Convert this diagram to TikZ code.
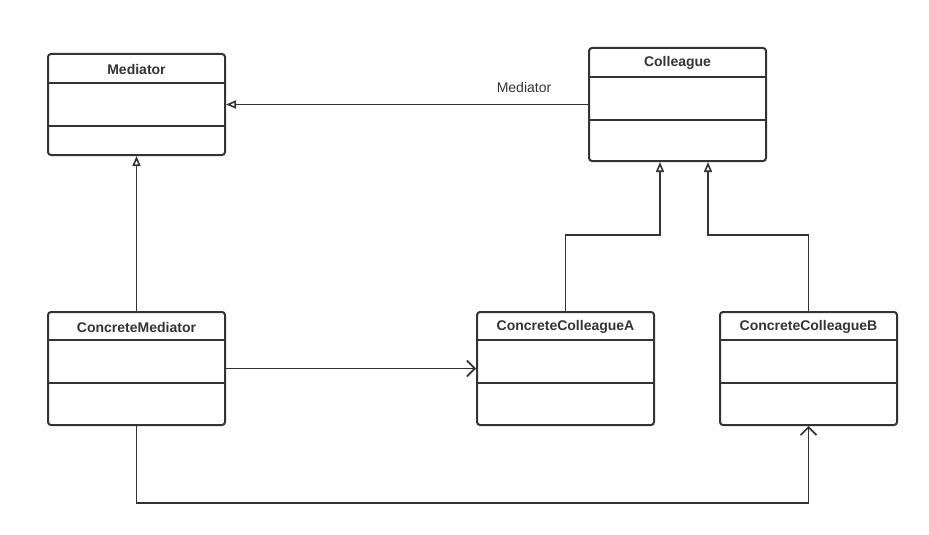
\documentclass[tikz,border=0pt]{standalone}
\usepackage{fontspec}
\setmainfont{Liberation Sans}
\usetikzlibrary{arrows.meta}

\definecolor{umlgray}{RGB}{51,51,51}

\tikzset{
	cls/.style={draw=umlgray, line width=2pt, rounded corners=3pt, minimum width=177pt, inner sep=0pt},
	ttl/.style={font=\fontsize{14}{16}\selectfont\bfseries, text=umlgray},
	txt/.style={font=\fontsize{14}{16}\selectfont, text=umlgray},
	sep/.style={draw=umlgray, line width=2pt},
	link/.style={draw=umlgray, line width=1.8pt},
	gen/.style={link, -{Triangle[open, length=10pt, width=8pt, line width=1.6pt]}},
	assoc/.style={link, -{Straight Barb[length=8pt, width=16pt, line width=1.6pt]}},
}

\begin{document}
\begin{tikzpicture}[x=1pt,y=1pt,yscale=-1,xscale=1]
		\useasboundingbox (0,0) rectangle (929,535);
		
		% class boxes
		\node[cls, minimum height=101pt] (med) at (136.5,104.5) {};
		\node[ttl] (med-t) at (136.5,69) {Mediator};
		\draw[sep] (med.north west) ++(0,30) -- ++(177,0);
		\draw[sep] (med.north west) ++(0,73) -- ++(177,0);
		
		\node[cls, minimum height=113pt] (col) at (677.5,104.5) {};
		\node[ttl] (col-t) at (677.5,63) {Colleague};
		\draw[sep] (col.north west) ++(0,30) -- ++(177,0);
		\draw[sep] (col.north west) ++(0,73) -- ++(177,0);
		
		\node[cls, minimum height=113pt] (cm) at (136.5,368.5) {};
		\node[ttl] (cm-t) at (136.5,327) {ConcreteMediator};
		\draw[sep] (cm.north west) ++(0,29) -- ++(177,0);
		\draw[sep] (cm.north west) ++(0,72) -- ++(177,0);
		
		\node[cls, minimum height=113pt] (cca) at (565.5,368.5) {};
		\node[ttl] (cca-t) at (565.5,327) {ConcreteColleagueA};
		\draw[sep] (cca.north west) ++(0,29) -- ++(177,0);
		\draw[sep] (cca.north west) ++(0,72) -- ++(177,0);
		
		\node[cls, minimum height=113pt] (ccb) at (808.5,368.5) {};
		\node[ttl] (ccb-t) at (808.5,327) {ConcreteColleagueB};
		\draw[sep] (ccb.north west) ++(0,29) -- ++(177,0);
		\draw[sep] (ccb.north west) ++(0,72) -- ++(177,0);
		
		% connectors
		\draw[gen] (col.west) -- (med.east);
		\node[txt] (col-lbl) at (524,87) {Mediator};
		\draw[gen] (cm.north) -- (med.south);
		\draw[gen] (cca.north) -- ++(0,-76) -| ([xshift=-17.5pt]col.south);
		\draw[gen] (ccb.north) -- ++(0,-76) -| ([xshift=30.5pt]col.south);
		\draw[assoc] (cm.east) -- (cca.west);
		\draw[assoc] (cm.south) -- ++(0,77) -| (ccb.south);
		
\end{tikzpicture}
\end{document}
